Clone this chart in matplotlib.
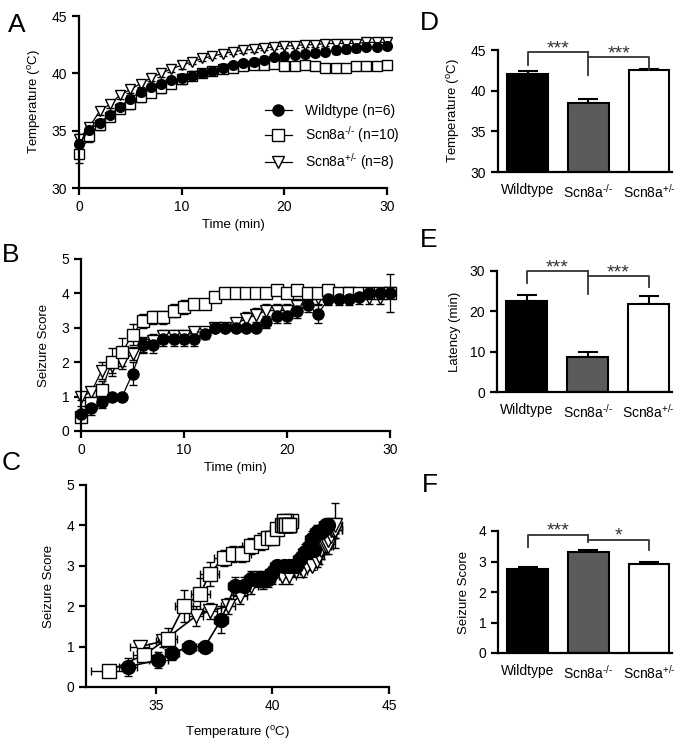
import numpy as np
import matplotlib
matplotlib.use('Agg')
import matplotlib.pyplot as plt
from matplotlib.lines import Line2D

plt.rcParams['font.family'] = ['Liberation Sans', 'DejaVu Sans']
plt.rcParams['mathtext.fontset'] = 'custom'
plt.rcParams['mathtext.rm'] = 'Liberation Sans'
plt.rcParams['mathtext.it'] = 'Liberation Sans'

# ---- data ----
time_min = np.arange(0, 31)

# A: temperature vs time
temp_wt = [33.8, 35.1, 35.7, 36.4, 37.1, 37.8, 38.4, 38.8, 39.1, 39.4, 39.6,
           39.8, 40.0, 40.2, 40.5, 40.7, 40.9, 41.0, 41.2, 41.4, 41.5,
           41.6, 41.7, 41.8, 41.9, 42.0, 42.1, 42.2, 42.3, 42.3, 42.4]
temp_wt_err = [0.4, 0.4, 0.3, 0.3, 0.3, 0.3, 0.3, 0.3, 0.3, 0.3, 0.3,
               0.3, 0.3, 0.3, 0.3, 0.3, 0.3, 0.3, 0.3, 0.3, 0.3,
               0.3, 0.3, 0.3, 0.3, 0.3, 0.3, 0.3, 0.3, 0.3, 0.3]
temp_ko = [33.0, 34.5, 35.5, 36.2, 36.9, 37.3, 37.9, 38.3, 38.7, 39.1, 39.5,
           39.8, 40.0, 40.2, 40.4, 40.5, 40.6, 40.7, 40.7, 40.8, 40.6,
           40.6, 40.7, 40.6, 40.5, 40.5, 40.5, 40.6, 40.6, 40.6, 40.7]
temp_ko_err = [0.8, 0.5, 0.4, 0.4, 0.4, 0.4, 0.4, 0.4, 0.4, 0.4, 0.4,
               0.4, 0.3, 0.3, 0.3, 0.3, 0.3, 0.3, 0.3, 0.3, 0.3,
               0.3, 0.3, 0.3, 0.3, 0.3, 0.3, 0.3, 0.3, 0.3, 0.3]
temp_het = [34.3, 35.3, 36.7, 37.3, 38.1, 38.6, 39.1, 39.6, 40.0, 40.4, 40.7,
            41.0, 41.3, 41.5, 41.7, 41.9, 42.0, 42.1, 42.2, 42.3, 42.4,
            42.4, 42.5, 42.5, 42.6, 42.6, 42.6, 42.6, 42.7, 42.7, 42.7]
temp_het_err = [0.4, 0.3, 0.3, 0.3, 0.3, 0.3, 0.3, 0.3, 0.3, 0.3, 0.3,
                0.2, 0.2, 0.2, 0.2, 0.2, 0.2, 0.2, 0.2, 0.2, 0.2,
                0.2, 0.2, 0.2, 0.2, 0.2, 0.2, 0.2, 0.3, 0.3, 0.3]

# B: seizure score vs time
score_wt = [0.5, 0.67, 0.83, 1.0, 1.0, 1.67, 2.5, 2.5, 2.67, 2.67, 2.67,
            2.67, 2.83, 3.0, 3.0, 3.0, 3.0, 3.0, 3.17, 3.33, 3.33,
            3.5, 3.67, 3.4, 3.83, 3.83, 3.83, 3.9, 4.0, 4.0, 4.0]
score_wt_err = [0.22, 0.2, 0.17, 0, 0, 0.33, 0.22, 0.22, 0.2, 0.2, 0.2,
                0.2, 0.17, 0, 0, 0, 0, 0, 0.17, 0.2, 0.2,
                0.22, 0.2, 0.25, 0.17, 0.17, 0.17, 0.1, 0, 0, 0]
score_ko = [0.4, 0.8, 1.2, 2.0, 2.3, 2.8, 3.2, 3.3, 3.3, 3.5, 3.6,
            3.7, 3.7, 3.9, 4.0, 4.0, 4.0, 4.0, 4.0, 4.1, 4.0,
            4.1, 4.0, 4.0, 4.1, 4.0, 4.0, 4.0, 4.0, 4.0, 4.0]
score_ko_err = [0.15, 0.15, 0.25, 0.4, 0.4, 0.3, 0.2, 0.2, 0.2, 0.2, 0.2,
                0.15, 0.15, 0.1, 0, 0, 0, 0, 0, 0.1, 0,
                0.1, 0, 0, 0.1, 0, 0, 0, 0, 0, 0]
score_het = [1.0, 1.13, 1.75, 1.88, 2.0, 2.25, 2.5, 2.63, 2.75, 2.75, 2.75,
             2.88, 2.88, 3.0, 3.0, 3.13, 3.25, 3.38, 3.5, 3.5, 3.5,
             3.63, 3.75, 3.88, 3.88, 3.88, 4.0, 3.88, 3.88, 3.88, 4.0]
score_het_err = [0.1, 0.15, 0.25, 0.2, 0.2, 0.2, 0.2, 0.2, 0.2, 0.2, 0.2,
                 0.15, 0.15, 0.1, 0.1, 0.15, 0.2, 0.2, 0.2, 0.2, 0.2,
                 0.2, 0.2, 0.2, 0.2, 0.15, 0.1, 0.2, 0.2, 0.2, 0.55]

# D-F: bar summaries
KO = 'Scn8a$^{\\text{-/-}}$'
HET = 'Scn8a$^{\\text{+/-}}$'
groups = ['Wildtype', KO, HET]
bar_colors = ['black', '#5b5b5b', 'white']
thresh_temp = [42.0, 38.5, 42.5]
thresh_temp_err = [0.4, 0.5, 0.15]
latency = [22.5, 8.7, 21.7]
latency_err = [1.5, 1.3, 2.0]
max_score = [2.75, 3.3, 2.92]
max_score_err = [0.07, 0.08, 0.07]

W, H = 685, 742
fig = plt.figure(figsize=(W / 100, H / 100), dpi=100)


def px_axes(l, t, r, b):
    ax = fig.add_axes([l / W, 1 - b / H, (r - l) / W, (b - t) / H])
    for s in ['top', 'right']:
        ax.spines[s].set_visible(False)
    for s in ['left', 'bottom']:
        ax.spines[s].set_linewidth(1.6)
    ax.tick_params(direction='out', length=5, width=1.6, labelsize=10)
    return ax


series = [
    (HET + ' (n=8)', 'v', 'white', temp_het, temp_het_err, score_het, score_het_err),
    (KO + ' (n=10)', 's', 'white', temp_ko, temp_ko_err, score_ko, score_ko_err),
    ('Wildtype (n=6)', 'o', 'black', temp_wt, temp_wt_err, score_wt, score_wt_err),
]
tlab = 'Temperature ($^{\\mathregular{o}}$C)'

# ---- A ----
axA = px_axes(79, 16, 387, 188)
for name, m, fc, tv, te, sv, se in series:
    axA.errorbar(time_min, tv, yerr=te, fmt='-', marker=m, mfc=fc, mec='black',
                 color='black', ms=7, lw=0.9, elinewidth=0.9, capsize=3, clip_on=False)
axA.set_xlim(0, 30)
axA.set_ylim(30, 45)
axA.set_xticks([0, 10, 20, 30])
axA.set_yticks([30, 35, 40, 45])
axA.set_xlabel('Time (min)', fontsize=9.5, labelpad=4)
axA.set_ylabel(tlab, fontsize=9.5, labelpad=6)
handles = [Line2D([0], [0], color='black', lw=0.9, marker=m, mfc=fc, mec='black', ms=8)
           for name, m, fc, *_ in series[::-1]]
labels = [s[0] for s in series[::-1]]
axA.legend(handles, labels, loc='center left', bbox_to_anchor=(0.58, 0.29),
           frameon=False, fontsize=10, handlelength=2.0, handletextpad=0.9,
           labelspacing=0.45, borderpad=0)

# ---- B ----
axB = px_axes(81, 259, 390, 431)
for name, m, fc, tv, te, sv, se in series:
    axB.errorbar(time_min, sv, yerr=se, fmt='-', marker=m, mfc=fc, mec='black',
                 color='black', ms=8, lw=0.9, elinewidth=0.9, capsize=3, clip_on=False)
axB.set_xlim(0, 30)
axB.set_ylim(0, 5)
axB.set_xticks([0, 10, 20, 30])
axB.set_yticks([0, 1, 2, 3, 4, 5])
axB.set_xlabel('Time (min)', fontsize=9.5, labelpad=4)
axB.set_ylabel('Seizure Score', fontsize=9.5, labelpad=8)

# ---- C ----
axC = px_axes(86, 485, 389, 687)
for name, m, fc, tv, te, sv, se in series:
    axC.errorbar(tv, sv, xerr=te, yerr=se, fmt='-', marker=m, mfc=fc, mec='black',
                 color='black', ms=10, lw=1.2, elinewidth=1.0, capsize=3, clip_on=False)
axC.set_xlim(32, 45)
axC.set_ylim(0, 5)
axC.set_xticks([35, 40, 45])
axC.set_yticks([0, 1, 2, 3, 4, 5])
axC.set_xlabel(tlab, fontsize=9.5, labelpad=8)
axC.set_ylabel('Seizure Score', fontsize=9.5, labelpad=8)


# ---- D-F ----
def bar_panel(rect, vals, errs, ylim, yticks, ylabel, br, texts):
    ax = px_axes(*rect)
    x = np.arange(3)
    ax.bar(x, vals, width=0.67, color=bar_colors, edgecolor='black', linewidth=1.5, zorder=2)
    ax.errorbar(x, vals, yerr=[[0, 0, 0], errs], fmt='none', ecolor='black',
                elinewidth=1.5, capsize=7, capthick=1.5, zorder=1)
    ax.set_xlim(-0.49, 2.38)
    ax.set_ylim(*ylim)
    ax.set_yticks(yticks)
    ax.set_xticks(x)
    ax.set_xticklabels(groups, fontsize=10)
    ax.tick_params(axis='x', length=0, pad=8)
    ax.set_ylabel(ylabel, fontsize=9.5, labelpad=6)
    y1, yl, ym, y2, yr = br
    kw = dict(color='#333333', lw=1.3, clip_on=False)
    ax.plot([0, 0, 1], [yl, y1, y1], **kw)
    ax.plot([1, 1], [y1, ym], **kw)
    ax.plot([1, 2, 2], [y2, y2, yr], **kw)
    (t1, ty1), (t2, ty2) = texts
    ax.text(0.5, ty1, t1, ha='center', va='baseline', fontsize=14, color='#333333')
    ax.text(1.5, ty2, t2, ha='center', va='baseline', fontsize=14, color='#333333')
    return ax


bar_panel((498, 50, 672, 172), thresh_temp, thresh_temp_err, (30, 45), [30, 35, 40, 45],
          tlab, (44.8, 43.1, 41.9, 44.2, 42.6), (('***', 44.6), ('***', 44.0)))
bar_panel((497, 271, 672, 392), latency, latency_err, (0, 30), [0, 10, 20, 30],
          'Latency (min)', (30, 27.1, 24.4, 28.8, 26.1), (('***', 29.6), ('***', 28.4)))
bar_panel((498, 531, 672, 653), max_score, max_score_err, (0, 4), [0, 1, 2, 3, 4],
          'Seizure Score', (3.87, 3.46, 3.64, 3.70, 3.37), (('***', 3.85), ('*', 3.68)))

# panel letters
for lab, x, y in [('A', 8, 32), ('B', 2, 262), ('C', 2, 470), ('D', 420, 30),
                  ('E', 420, 247), ('F', 422, 492)]:
    fig.text(x / W, 1 - y / H, lab, fontsize=19, va='baseline', ha='left')

fig.savefig('out.png', dpi=100)
